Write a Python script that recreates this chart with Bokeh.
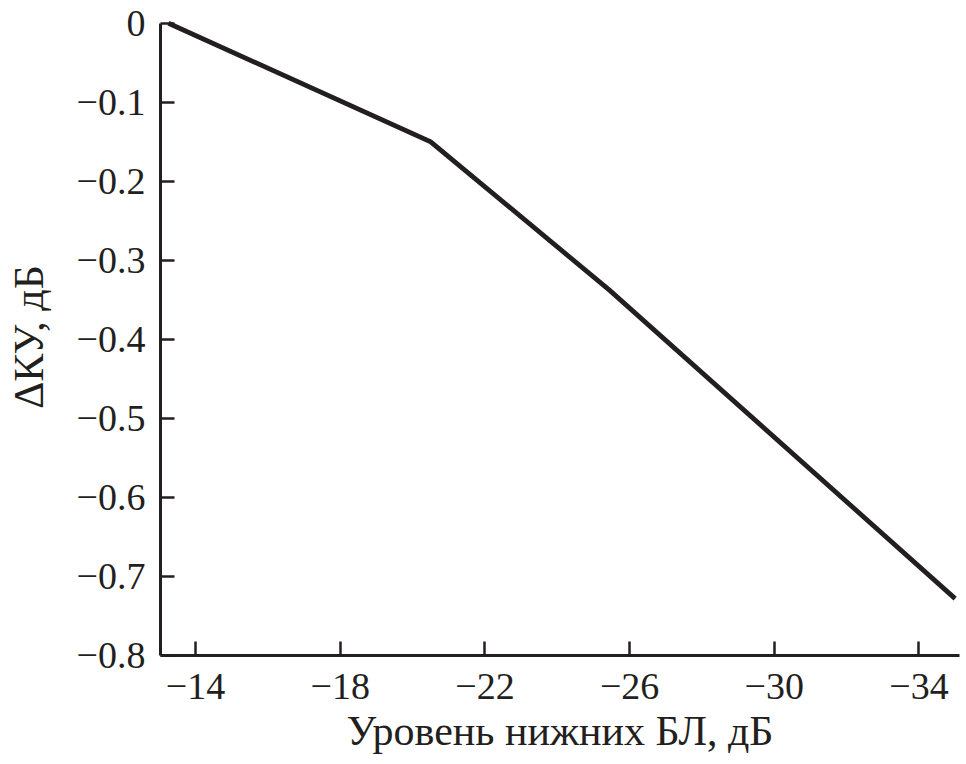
from bokeh.plotting import figure
from bokeh.models import Range1d, FixedTicker
from bokeh.embed import file_html
from bokeh.resources import INLINE

# Data
level_db = [-13.25, -20.5, -25.45, -35.0]
delta_ku = [0.0, -0.15, -0.338, -0.728]

x_ticks = [-14, -18, -22, -26, -30, -34]
x_tick_labels = ["\u221214", "\u221218", "\u221222", "\u221226", "\u221230", "\u221234"]
y_ticks = [0, -0.1, -0.2, -0.3, -0.4, -0.5, -0.6, -0.7, -0.8]
y_tick_labels = ["0", "\u22120.1", "\u22120.2", "\u22120.3", "\u22120.4", "\u22120.5", "\u22120.6", "\u22120.7", "\u22120.8"]

x_label = "Уровень нижних БЛ, дБ"
y_label = "ΔКУ, дБ"

ink = "#231f20"
font = "Liberation Serif"

p = figure(width=962, height=760, output_backend="svg", toolbar_location=None,
           x_range=Range1d(-13.03, -35.12), y_range=Range1d(-0.8, 0.006),
           min_border_left=160, min_border_right=3, min_border_top=18, min_border_bottom=105)
p.outline_line_color = None
p.xgrid.grid_line_color = None
p.ygrid.grid_line_color = None
p.background_fill_color = "white"
p.border_fill_color = "white"

p.line(level_db, delta_ku, line_width=4.8, line_color=ink, line_join="miter")

for ax in (p.xaxis[0], p.yaxis[0]):
    ax.axis_line_color = ink
    ax.axis_line_width = 3
    ax.major_tick_line_color = ink
    ax.major_tick_line_width = 2.5
    ax.major_tick_in = 14
    ax.major_tick_out = 0
    ax.minor_tick_line_color = None
    ax.major_label_text_font = font
    ax.major_label_text_font_size = "38px"
    ax.major_label_text_color = ink
    ax.axis_label_text_font = font
    ax.axis_label_text_font_size = "42px"
    ax.axis_label_text_font_style = "normal"
    ax.axis_label_text_color = ink

p.xaxis.ticker = FixedTicker(ticks=x_ticks)
p.xaxis.major_label_overrides = dict(zip(x_ticks, x_tick_labels))
p.yaxis.ticker = FixedTicker(ticks=y_ticks)
p.yaxis.major_label_overrides = dict(zip(y_ticks, y_tick_labels))
p.yaxis.bounds = (-0.8, 0)
p.xaxis.axis_label = x_label
p.yaxis.axis_label = y_label
p.xaxis.major_label_standoff = 18
p.yaxis.major_label_standoff = 15
p.xaxis.axis_label_standoff = 6
p.yaxis.axis_label_standoff = 22

open("out.html", "w").write(file_html(p, INLINE))
